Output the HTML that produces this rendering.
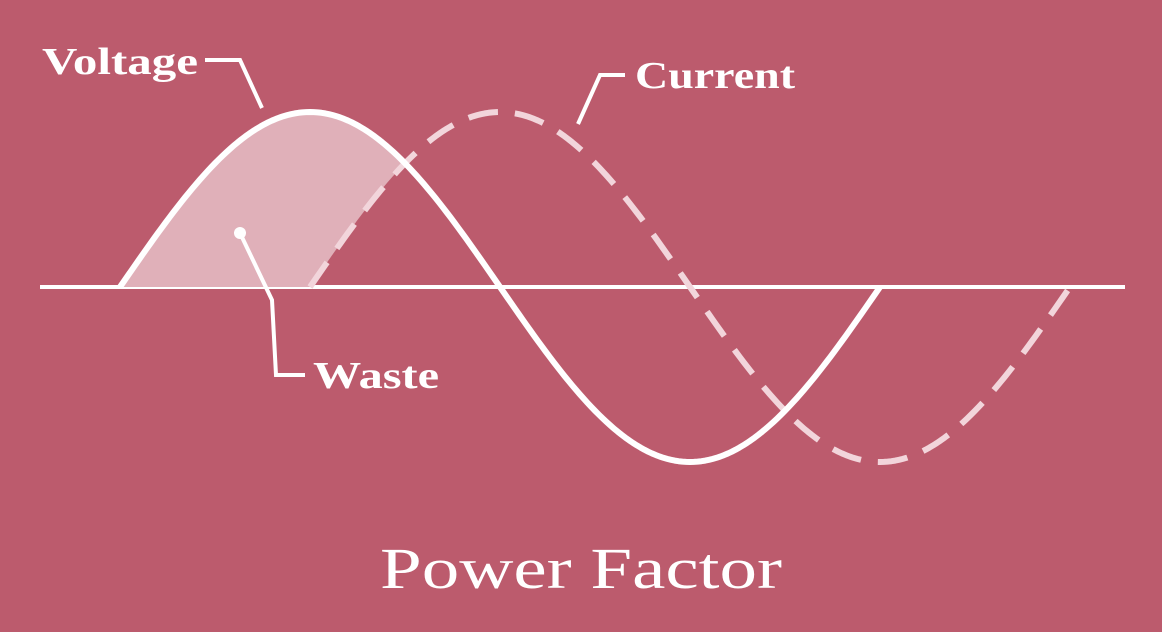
<!DOCTYPE html>
<html><head><meta charset="utf-8"><style>
html,body{margin:0;padding:0;background:#bc5b6d;}
svg{display:block;}
text{font-family:"Liberation Serif",serif;fill:#fff;}
</style></head><body>
<svg id="chart" width="1162" height="632" viewBox="0 0 1162 632">
<rect width="1162" height="632" fill="#bc5b6d"/>
<line x1="40" y1="287" x2="1125" y2="287" stroke="#fff" stroke-width="4"/>
<g id="marks"></g>
<polyline points="205,60 240,60 262,108" fill="none" stroke="#fff" stroke-width="4"/>
<text x="42" y="74" font-size="38" font-weight="bold" textLength="156" lengthAdjust="spacingAndGlyphs">Voltage</text>
<polyline points="625,75 600,75 578,124" fill="none" stroke="#fff" stroke-width="4"/>
<text x="635" y="88" font-size="38" font-weight="bold" textLength="160" lengthAdjust="spacingAndGlyphs">Current</text>
<circle cx="240" cy="233" r="6" fill="#fff"/>
<polyline points="240,233 272,300 276,375 305,375" fill="none" stroke="#fff" stroke-width="4"/>
<text x="313" y="388" font-size="38" font-weight="bold" textLength="126" lengthAdjust="spacingAndGlyphs">Waste</text>
<text x="380" y="588" font-size="58" textLength="402" lengthAdjust="spacingAndGlyphs">Power Factor</text>
</svg>
<script>
// Data: wave start positions (phase units, 0..1 of a full cycle), amplitude, cycles
const seriesNames = ["voltage", "current"];
const seriesStart = [0, 0.25];   // phase offset in cycles
const seriesAmplitude = [1, 1];
const seriesCycles = [1, 1];
// Axis scales
const x0 = 120, cyclePx = 760, yMid = 287, ampPx = 175;
const xScale = p => x0 + p * cyclePx;
const yScale = v => yMid - v * ampPx;
const NS = "http://www.w3.org/2000/svg";
const g = document.getElementById("marks");
function wavePts(i, from, to) {
  const pts = [];
  for (let k = 0; k <= 200; k++) {
    const p = from + (to - from) * k / 200;
    const v = seriesAmplitude[i] * Math.sin(2 * Math.PI * (p - seriesStart[i]));
    pts.push([xScale(p), yScale(v)]);
  }
  return pts;
}
const crossP = (seriesStart[0] + seriesStart[1]) / 2 + 0.25;
const vPts = wavePts(0, seriesStart[0], crossP);
const cPts = wavePts(1, seriesStart[1], crossP).reverse();
const fill = document.createElementNS(NS, "polygon");
fill.setAttribute("points", vPts.concat(cPts).map(p => p.join(",")).join(" "));
fill.setAttribute("fill", "#e0b0b9");


g.appendChild(fill);
seriesNames.forEach((name, i) => {
  const pts = wavePts(i, seriesStart[i], seriesStart[i] + seriesCycles[i]);
  const pl = document.createElementNS(NS, "polyline");
  pl.setAttribute("points", pts.map(p => p.join(",")).join(" "));
  pl.setAttribute("fill", "none");
  pl.setAttribute("stroke-width", "6");
  pl.setAttribute("stroke-linejoin", "round");
  if (i === 0) { pl.setAttribute("stroke", "#fff"); }
  else { pl.setAttribute("stroke", "#f2d5db"); pl.setAttribute("stroke-dasharray", "30 17"); }
  
  
  if (i === 0) g.appendChild(pl); else g.insertBefore(pl, g.children[1]);
});
</script>
</body></html>
